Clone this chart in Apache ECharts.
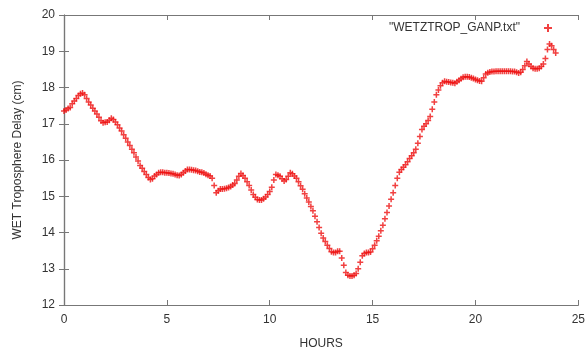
<!DOCTYPE html>
<html>
<head>
<meta charset="utf-8">
<script src="https://cdn.jsdelivr.net/npm/echarts@6/dist/echarts.min.js"></script>
<style>
  html, body { margin: 0; padding: 0; background: #fff; }
  #chart { width: 588px; height: 355px; }
</style>
</head>
<body>
<div id="chart"></div>
<script>
// WET troposphere delay, one sample every 0.1 hour from 0h
var seriesName = '"WETZTROP_GANP.txt"';
var startHour = 0;
var stepHour = 0.1;
var wetDelay = [
  17.35, 17.38, 17.42, 17.45, 17.55, 17.63, 17.70, 17.78, 17.83, 17.85,
  17.80, 17.70, 17.60, 17.52, 17.43, 17.35, 17.27, 17.18, 17.08, 17.03,
  17.04, 17.05, 17.10, 17.15, 17.12, 17.05, 16.97, 16.88, 16.80, 16.70,
  16.60, 16.50, 16.40, 16.30, 16.20, 16.08, 15.97, 15.85, 15.77, 15.68,
  15.60, 15.52, 15.46, 15.48, 15.56, 15.60, 15.65, 15.66, 15.66, 15.65,
  15.65, 15.64, 15.63, 15.62, 15.60, 15.58, 15.57, 15.60, 15.65, 15.70,
  15.74, 15.74, 15.73, 15.72, 15.71, 15.69, 15.67, 15.66, 15.64, 15.61,
  15.58, 15.56, 15.50, 15.30, 15.10, 15.15, 15.20, 15.20, 15.21, 15.22,
  15.24, 15.27, 15.31, 15.35, 15.45, 15.55, 15.63, 15.57, 15.50, 15.40,
  15.30, 15.17, 15.05, 14.97, 14.91, 14.90, 14.90, 14.93, 14.98, 15.05,
  15.13, 15.25, 15.45, 15.60, 15.58, 15.55, 15.48, 15.42, 15.46, 15.55,
  15.65, 15.62, 15.56, 15.50, 15.40, 15.29, 15.19, 15.07, 14.95, 14.84,
  14.72, 14.60, 14.45, 14.30, 14.14, 13.98, 13.85, 13.75, 13.65, 13.56,
  13.47, 13.45, 13.45, 13.48, 13.48, 13.30, 13.10, 12.90, 12.82, 12.80,
  12.80, 12.82, 12.87, 13.00, 13.18, 13.36, 13.42, 13.45, 13.45, 13.46,
  13.55, 13.65, 13.77, 13.90, 14.05, 14.20, 14.38, 14.55, 14.73, 14.92,
  15.10, 15.30, 15.50, 15.66, 15.74, 15.80, 15.87, 15.95, 16.04, 16.12,
  16.20, 16.30, 16.46, 16.65, 16.84, 16.93, 17.00, 17.09, 17.20, 17.40,
  17.60, 17.80, 17.93, 18.05, 18.13, 18.17, 18.16, 18.15, 18.14, 18.13,
  18.12, 18.16, 18.20, 18.24, 18.28, 18.30, 18.30, 18.29, 18.27, 18.25,
  18.22, 18.20, 18.18, 18.17, 18.27, 18.37, 18.41, 18.43, 18.44, 18.44,
  18.45, 18.45, 18.45, 18.45, 18.45, 18.45, 18.45, 18.45, 18.44, 18.44,
  18.42, 18.40, 18.42, 18.50, 18.60, 18.72, 18.65, 18.58, 18.53, 18.52,
  18.52, 18.53, 18.58, 18.65, 18.80, 19.05, 19.20, 19.15, 19.05, 18.95
];
var xTicks = [0, 5, 10, 15, 20, 25];
var yTicks = [12, 13, 14, 15, 16, 17, 18, 19, 20];

var points = wetDelay.map(function (v, i) {
  return [+(startHour + i * stepHour).toFixed(2), v];
});

var plus = "path://M1.5,0H2.5V1.5H4V2.5H2.5V4H1.5V2.5H0V1.5H1.5Z";
var font = "Liberation Sans";
var axisCol = "#777";
var textCol = "#333";

var chart = echarts.init(document.getElementById("chart"));
var option = {
  animation: false,
  backgroundColor: "#fff",
  textStyle: { fontFamily: font },
  grid: { left: 64, right: 8, top: 15, bottom: 49 },
  legend: {
    right: 31,
    top: 17,
    align: "right",
    itemWidth: 8,
    itemHeight: 8,
    itemGap: 0,
    textStyle: { color: textCol, fontSize: 12, fontFamily: font, padding: [0, 19, 0, 0] },
    data: [{ name: seriesName, icon: plus }]
  },
  xAxis: [
    {
      type: "value",
      min: xTicks[0],
      max: xTicks[xTicks.length - 1],
      interval: 5,
      name: "HOURS",
      nameLocation: "middle",
      nameGap: 33,
      nameTextStyle: { color: textCol, fontSize: 12 },
      axisLine: { lineStyle: { color: axisCol, width: 1.2 } },
      axisTick: { inside: true, length: 5, lineStyle: { color: axisCol } },
      axisLabel: { color: textCol, fontSize: 12, margin: 9 },
      splitLine: { show: false }
    },
    {
      type: "value",
      position: "top",
      min: xTicks[0],
      max: xTicks[xTicks.length - 1],
      interval: 5,
      axisLine: { show: true, lineStyle: { color: axisCol, width: 1.2 } },
      axisTick: { inside: true, length: 5, lineStyle: { color: axisCol } },
      axisLabel: { show: false },
      splitLine: { show: false }
    }
  ],
  yAxis: [
    {
      type: "value",
      min: yTicks[0],
      max: yTicks[yTicks.length - 1],
      interval: 1,
      name: "WET Troposphere Delay (cm)",
      nameLocation: "middle",
      nameGap: 40,
      nameTextStyle: { color: textCol, fontSize: 12 },
      axisLine: { show: true, lineStyle: { color: axisCol, width: 1.2 } },
      axisTick: { show: true, inside: true, length: 5, lineStyle: { color: axisCol } },
      axisLabel: { color: textCol, fontSize: 12, margin: 9 },
      splitLine: { show: false }
    },
    {
      type: "value",
      position: "right",
      min: yTicks[0],
      max: yTicks[yTicks.length - 1],
      interval: 1,
      axisLine: { show: true, lineStyle: { color: axisCol, width: 1.2 } },
      axisTick: { show: true, inside: true, length: 5, lineStyle: { color: axisCol } },
      axisLabel: { show: false },
      splitLine: { show: false }
    }
  ],
  series: [
    {
      name: seriesName,
      type: "scatter",
      symbol: plus,
      symbolSize: 6,
      itemStyle: { color: "#ee1111" },
      data: points
    }
  ]
};
chart.setOption(option);
</script>
</body>
</html>
